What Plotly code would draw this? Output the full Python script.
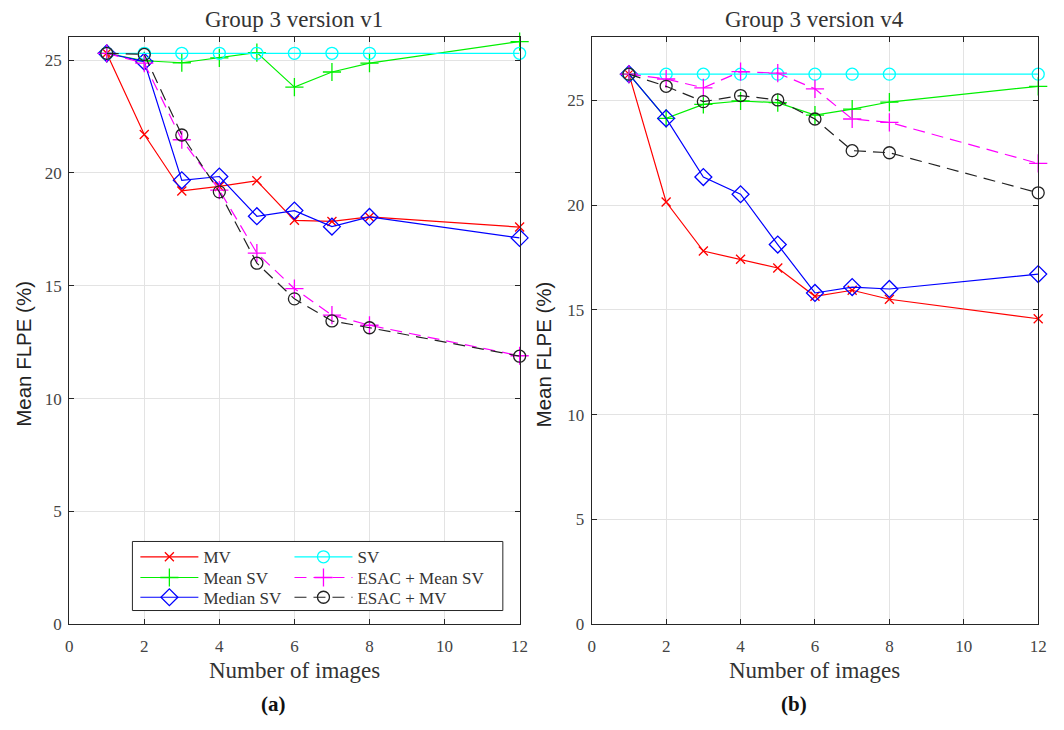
import plotly.graph_objects as go

# Number of images used for each estimate
n_images = [1, 2, 3, 4, 5, 6, 7, 8, 12]

# Group 3, version v1 (mean FLPE, %)
v1_mv = [25.3, 21.7, 19.2, 19.4, 19.65, 17.9, 17.85, 18.05, 17.6]
v1_sv = [25.3, 25.3, 25.3, 25.3, 25.3, 25.3, 25.3, 25.3, 25.3]
v1_mean_sv = [25.3, 24.97, 24.88, 25.1, 25.33, 23.8, 24.47, 24.86, 25.82]
v1_esac_mean_sv = [25.3, 24.86, 21.47, 19.24, 16.45, 14.87, 13.7, 13.25, 11.9]
v1_median_sv = [25.3, 24.93, 19.67, 19.84, 18.08, 18.33, 17.62, 18.05, 17.12]
v1_esac_mv = [25.3, 25.25, 21.68, 19.16, 16.0, 14.42, 13.44, 13.14, 11.88]

# Group 3, version v4 (mean FLPE, %)
v4_mv = [26.25, 20.15, 17.81, 17.42, 17.0, 15.65, 15.94, 15.51, 14.58]
v4_sv = [26.25, 26.25, 26.25, 26.25, 26.25, 26.25, 26.25, 26.25, 26.25]
v4_mean_sv = [26.25, 24.14, 24.81, 24.97, 24.89, 24.3, 24.58, 24.92, 25.67]
v4_esac_mean_sv = [26.25, 26.02, 25.6, 26.37, 26.3, 25.55, 24.11, 23.95, 21.99]
v4_median_sv = [26.25, 24.14, 21.34, 20.52, 18.12, 15.81, 16.09, 16.0, 16.71]
v4_esac_mv = [26.25, 25.67, 24.94, 25.23, 25.02, 24.11, 22.6, 22.5, 20.59]

series_names = ["MV", "Mean SV", "Median SV", "SV", "ESAC + Mean SV", "ESAC + MV"]
v1_values = [v1_mv, v1_mean_sv, v1_median_sv, v1_sv, v1_esac_mean_sv, v1_esac_mv]
v4_values = [v4_mv, v4_mean_sv, v4_median_sv, v4_sv, v4_esac_mean_sv, v4_esac_mv]

styles = [
    dict(color="#ff0000", symbol="x-thin-open", size=9, dash="solid"),
    dict(color="#00f000", symbol="cross-thin-open", size=13, dash="solid"),
    dict(color="#0000ff", symbol="diamond-open", size=13, dash="solid"),
    dict(color="#00ffff", symbol="circle-open", size=12, dash="solid"),
    dict(color="#ff00ff", symbol="cross-thin-open", size=13, dash="12px,7px"),
    dict(color="#222222", symbol="circle-open", size=12, dash="12px,7px"),
]

SERIF = "Liberation Serif"
SANS = "Liberation Sans"
TEXT = "#333333"
W, H = 1064, 730

# one legend per entry: two columns of three rows inside a framed box
legend_ids = ["legend", "legend2", "legend3", "legend4", "legend5", "legend6"]
legend_cols = [133, 133, 133, 289, 289, 289]
legend_rows = [565, 586, 606, 565, 586, 606]

fig = go.Figure()

for panel, values in ((1, v1_values), (2, v4_values)):
    for name, ys, st, lid in zip(series_names, values, styles, legend_ids):
        fig.add_trace(go.Scatter(
            x=n_images, y=ys, name=name, mode="lines+markers",
            line=dict(color=st["color"], width=1.2, dash=st["dash"]),
            marker=dict(symbol=st["symbol"], size=st["size"], color=st["color"],
                        line=dict(color=st["color"], width=1.3)),
            xaxis="x" if panel == 1 else "x2",
            yaxis="y" if panel == 1 else "y2",
            legend=lid,
            cliponaxis=False,
            showlegend=(panel == 1),
        ))

y_dom = [1 - 633 / H, 1 - 38 / H]

axis_common = dict(
    showgrid=True, gridcolor="#e3e3e3", gridwidth=1,
    showline=True, linecolor="#262626", linewidth=1, mirror="allticks",
    ticks="inside", ticklen=5, tickcolor="#262626",
    zeroline=False, tickfont=dict(family=SERIF, size=17, color="#444444"),
)

legend_layout = {}
for lid, lx, ly in zip(legend_ids, legend_cols, legend_rows):
    legend_layout[lid] = dict(
        orientation="v", x=lx / W, y=1 - ly / H, xanchor="left", yanchor="middle",
        bgcolor="rgba(0,0,0,0)", borderwidth=0,
        font=dict(family=SERIF, size=17, color=TEXT),
        itemwidth=58, tracegroupgap=0,
    )

fig.update_layout(
    width=W, height=H,
    margin=dict(l=0, r=0, t=0, b=0),
    paper_bgcolor="white", plot_bgcolor="white",
    xaxis=dict(domain=[66 / W, 522 / W], range=[0, 12], dtick=2, anchor="y",
               ticklabelstandoff=6, **axis_common),
    yaxis=dict(domain=y_dom, range=[0, 26], dtick=5, anchor="x",
               ticklabelstandoff=3, **axis_common),
    xaxis2=dict(domain=[595 / W, 1047 / W], range=[0, 12], dtick=2, anchor="y2",
                ticklabelstandoff=6, **axis_common),
    yaxis2=dict(domain=y_dom, range=[0, 28], dtick=5, anchor="x2",
                ticklabelstandoff=3, **axis_common),
    showlegend=True,
    shapes=[dict(type="rect", xref="paper", yref="paper",
                 x0=130 / W, x1=505 / W, y0=1 - 619 / H, y1=1 - 549 / H,
                 line=dict(color="#262626", width=1), fillcolor="white", layer="above")],
    **legend_layout,
)

annotations = [
    dict(text="Group 3 version v1", x=294 / W, y=1 - 20 / H, font=dict(family=SERIF, size=23, color=TEXT)),
    dict(text="Group 3 version v4", x=821 / W, y=1 - 20 / H, font=dict(family=SERIF, size=23, color=TEXT)),
    dict(text="Number of images", x=294 / W, y=1 - 680 / H, font=dict(family=SERIF, size=23, color=TEXT)),
    dict(text="Number of images", x=821 / W, y=1 - 680 / H, font=dict(family=SERIF, size=23, color=TEXT)),
    dict(text="<b>(a)</b>", x=273 / W, y=1 - 714 / H, font=dict(family=SERIF, size=21, color="#111111")),
    dict(text="<b>(b)</b>", x=800 / W, y=1 - 714 / H, font=dict(family=SERIF, size=21, color="#111111")),
    dict(text="Mean FLPE (%)", x=19 / W, y=1 - 359 / H, textangle=-90, font=dict(family=SANS, size=20.5, color="#222222")),
    dict(text="Mean FLPE (%)", x=546 / W, y=1 - 359 / H, textangle=-90, font=dict(family=SANS, size=20.5, color="#222222")),
]
for a in annotations:
    a.update(xref="paper", yref="paper", showarrow=False, xanchor="center", yanchor="middle")
fig.update_layout(annotations=annotations)

fig.write_html("out.html")
